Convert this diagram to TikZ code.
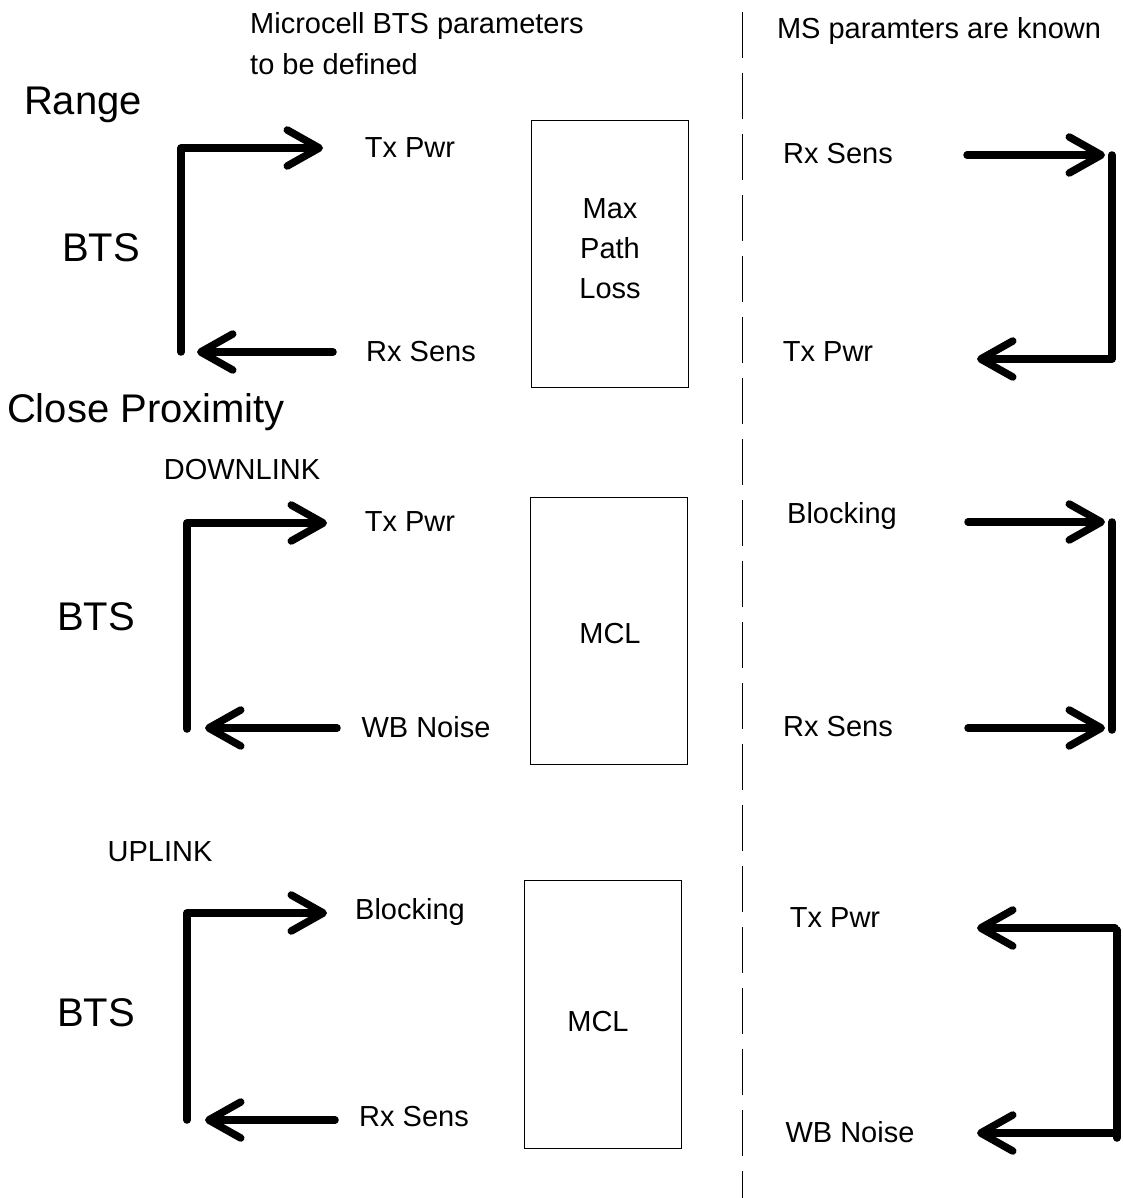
\documentclass[tikz,border=0pt]{standalone}
\usepackage{fontspec}
\setmainfont{Liberation Sans}
\usetikzlibrary{arrows.meta}
\begin{document}
\begin{tikzpicture}[x=1pt,y=-1pt,
  small/.style={font=\fontsize{29}{34}\selectfont, inner sep=0pt},
  big/.style={font=\fontsize{40}{46}\selectfont, inner sep=0pt},
  heavy/.style={line width=7.5pt, line cap=round, line join=round},
  arr/.style={heavy, -{Straight Barb[length=32pt,width=36pt,line cap=round,line join=round]}},
  lossbox/.style={draw, line width=1pt, minimum width=157pt, inner sep=0pt},
  divider/.style={line width=1pt, dash pattern=on 46pt off 15pt}
]
\useasboundingbox (0,0) rectangle (1122,1198);

% headings
\node[small, anchor=west] (hdA) at (250,26) {Microcell BTS parameters};
\node[small, anchor=west] (hdB) at (250,64) {to be defined};
\node[small] (hdMS) at (939,31) {MS paramters are known};

% divider between BTS and MS sides
\coordinate (dvTop) at (742,12);
\coordinate (dvBot) at (742,1198);
\draw[divider] (dvTop) -- (dvBot);

% ---------- Range ----------
\node[big] (range) at (83,105) {Range};
\node[big] (bts1) at (101,248) {BTS};
\node[small] (l1tx) at (410,148) {Tx Pwr};
\node[small] (l1rx) at (421,352) {Rx Sens};
\node[lossbox, minimum height=266pt] (box1) at (609.5,254) {};
\node[small, align=center, font=\fontsize{29}{40}\selectfont] (box1t) at (610,249) {Max\\Path\\Loss};

\coordinate (a1c) at (181,148);
\coordinate (a1t) at (323,148);
\coordinate (a1b) at (181,352);
\coordinate (a1s) at (333,352);
\coordinate (a1e) at (197,352);
\draw[arr] (a1b) -- (a1c) -- (a1t);
\draw[arr] (a1s) -- (a1e);

\node[small] (r1rx) at (838,154) {Rx Sens};
\node[small] (r1tx) at (828,352) {Tx Pwr};
\coordinate (b1s) at (967,155);
\coordinate (b1t) at (1105,155);
\coordinate (b1c) at (1112,155);
\coordinate (b1d) at (1112,359);
\coordinate (b1e) at (977,359);
\draw[arr] (b1s) -- (b1t);
\draw[arr] (b1c) -- (b1d) -- (b1e);

% ---------- Close proximity: downlink ----------
\node[big] (close) at (146,412) {Close Proximity};
\node[small] (dl) at (242,470) {DOWNLINK};
\node[big] (bts2) at (96,617) {BTS};
\node[small] (l2tx) at (410,522) {Tx Pwr};
\node[small] (l2wb) at (426,727) {WB Noise};
\node[lossbox, minimum height=267pt] (box2) at (609,630.5) {};
\node[small] (box2t) at (610,634) {MCL};

\coordinate (a2c) at (187,523);
\coordinate (a2t) at (327,523);
\coordinate (a2b) at (187,729);
\coordinate (a2s) at (337,728);
\coordinate (a2e) at (205,728);
\draw[arr] (a2b) -- (a2c) -- (a2t);
\draw[arr] (a2s) -- (a2e);

\node[small] (r2bl) at (842,516) {Blocking};
\node[small] (r2rx) at (838,727) {Rx Sens};
\coordinate (b2s) at (968,522);
\coordinate (b2t) at (1105,522);
\coordinate (b2s2) at (968,728);
\coordinate (b2t2) at (1105,728);
\coordinate (b2c) at (1112,522);
\coordinate (b2d) at (1112,730);
\draw[arr] (b2s) -- (b2t);
\draw[arr] (b2s2) -- (b2t2);
\draw[heavy] (b2c) -- (b2d);

% ---------- Close proximity: uplink ----------
\node[small] (ul) at (160,852) {UPLINK};
\node[big] (bts3) at (96,1013) {BTS};
\node[small] (l3bl) at (410,912) {Blocking};
\node[small] (l3rx) at (414,1117) {Rx Sens};
\node[lossbox, minimum height=268pt] (box3) at (602.5,1014) {};
\node[small] (box3t) at (598,1022) {MCL};

\coordinate (a3c) at (187,913);
\coordinate (a3t) at (327,913);
\coordinate (a3b) at (187,1120);
\coordinate (a3s) at (335,1120);
\coordinate (a3e) at (205,1120);
\draw[arr] (a3b) -- (a3c) -- (a3t);
\draw[arr] (a3s) -- (a3e);

\node[small] (r3tx) at (835,918) {Tx Pwr};
\node[small] (r3wb) at (850,1132) {WB Noise};
\coordinate (b3c) at (1115,928);
\coordinate (b3e) at (977,928);
\coordinate (b3d) at (1115,1133);
\coordinate (b3f) at (977,1133);
\coordinate (b3top) at (1117,930);
\coordinate (b3bot) at (1117,1138);
\draw[arr] (b3c) -- (b3e);
\draw[arr] (b3d) -- (b3f);
\draw[heavy] (b3top) -- (b3bot);
\end{tikzpicture}
\end{document}
